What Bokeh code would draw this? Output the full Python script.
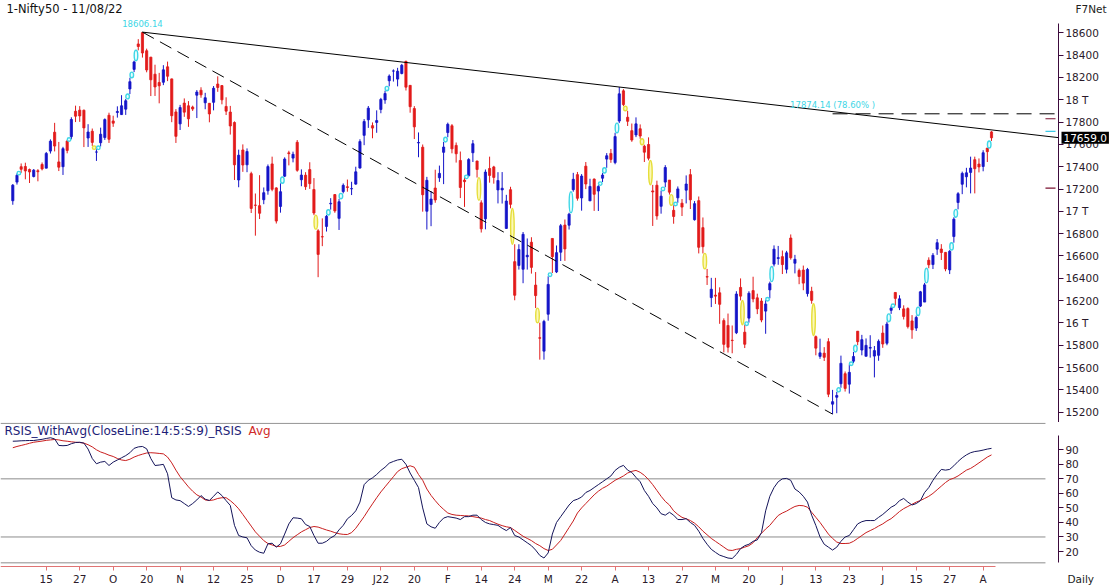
import numpy as np
from bokeh.plotting import figure
from bokeh.models import ColumnDataSource, Range1d, FixedTicker, Label, LinearAxis
from bokeh.layouts import column
from bokeh.embed import file_html
from bokeh.resources import INLINE
from bokeh.core.properties import value

# ---------------- data (Nifty50 daily, 02-09-2021 .. 11-08-2022) ----------------
opens = [17095, 17262, 17400, 17402, 17375, 17312, 17364, 17420, 17387, 17540,
 17709, 17443, 17400, 17630, 17670, 17897, 17907, 17906, 17657, 17718,
 17531, 17615, 17661, 17861, 17810, 17886, 17867, 17916, 18097, 18272,
 18500, 18602, 18439, 18382, 18229, 18155, 18157, 18295, 18187, 17891,
 17784, 17970, 17946, 17935, 18041, 18085, 17973, 17968, 17977, 18141,
 18127, 17940, 17890, 17796, 17281, 17550, 17417, 17338, 17056, 17051,
 17104, 17184, 17425, 17210, 17044, 17315, 17524, 17477, 17619, 17283,
 17324, 17374, 17196, 16825, 16773, 16865, 17067, 17150, 16937, 17177,
 17220, 17202, 17244, 17388, 17681, 17820, 17768, 17797, 17913, 17998,
 18170, 18257, 18185, 18235, 18344, 18129, 17921, 17613, 17575, 17001,
 17062, 17209, 17301, 17529, 17706, 17767, 17591, 17456, 17280, 17319,
 17525, 17451, 17076, 16933, 17384, 17398, 17192, 17192, 16847, 17194,
 16549, 16515, 16481, 16593, 16723, 16339, 15867, 15747, 16078, 16757,
 16457, 16634, 16877, 16876, 17194, 17329, 17120, 17405, 17094, 17289,
 17182, 17297, 17468, 17519, 17437, 17809, 18080, 17843, 17723, 17685,
 17740, 17584, 17599, 17183, 17234, 17045, 17262, 17280, 17009, 17121,
 17073, 17190, 17329, 16925, 17096, 16854, 16415, 16227, 16249, 16270,
 16021, 15977, 15845, 15912, 16318, 15917, 16043, 16290, 16225, 16196,
 16106, 16296, 16527, 16578, 16594, 16481, 16761, 16535, 16470, 16474,
 16263, 16284, 15877, 15700, 15729, 15832, 15272, 15334, 15455, 15545,
 15451, 15657, 15926, 15757, 15701, 15774, 15703, 15710, 15909, 15818,
 16113, 16273, 16137, 16126, 16129, 16018, 15954, 16151, 16187, 16562,
 16523, 16661, 16662, 16632, 16475, 16774, 17079, 17243, 17310, 17349,
 17463, 17424, 17402, 17567, 17712]
highs = [17245, 17340, 17429, 17436, 17383, 17379, 17378, 17438, 17532, 17645,
 17793, 17622, 17578, 17640, 17843, 17947, 17943, 17912, 17781, 17742,
 17557, 17750, 17833, 17884, 17857, 17941, 18041, 18008, 18197, 18350,
 18543, 18606.14, 18458, 18384, 18314, 18241, 18310, 18342, 18190, 17916,
 17954, 18012, 17988, 17947, 18087, 18112, 18062, 17971, 18123, 18210,
 18132, 18022, 17945, 17806, 17553, 17600, 17564, 17355, 17160, 17324,
 17214, 17420, 17490, 17216, 17251, 17484, 17543, 17535, 17639, 17376,
 17351, 17440, 17298, 16840, 16937, 16967, 17118, 17155, 17112, 17250,
 17285, 17265, 17400, 17646, 17827, 17944, 17797, 17905, 18017, 18081,
 18227, 18272, 18286, 18321, 18350, 18129, 17943, 17707, 17599, 17309,
 17182, 17373, 17410, 17622, 17795, 17782, 17617, 17536, 17306, 17477,
 17639, 17454, 17099, 17375, 17490, 17408, 17351, 17352, 17148, 17220,
 16705, 16705, 16815, 16757, 16768, 16456, 16002, 16028, 16418, 16757,
 16694, 16887, 16927, 16987, 17345, 17353, 17334, 17442, 17292, 17295,
 17235, 17343, 17522, 17559, 17704, 18114, 18095, 17901, 17787, 17842,
 17779, 17597, 17663, 17237, 17275, 17186, 17414, 17280, 17055, 17223,
 17110, 17322, 17379, 17092, 17133, 16945, 16484, 16404, 16404, 16319,
 16041, 16084, 15977, 16284, 16399, 15984, 16284, 16414, 16262, 16223,
 16204, 16370, 16695, 16690, 16649, 16646, 16793, 16610, 16487, 16514,
 16493, 16324, 15887, 15859, 15783, 15863, 15400, 15382, 15707, 15565,
 15628, 15740, 15927, 15893, 15861, 15890, 15793, 15852, 15977, 16011,
 16150, 16275, 16248, 16158, 16140, 16070, 16066, 16287, 16359, 16588,
 16626, 16752, 16706, 16636, 16653, 16947, 17172, 17356, 17390, 17490,
 17490, 17474, 17548, 17567, 17719]
lows = [17059, 17240, 17345, 17287, 17254, 17304, 17269, 17367, 17386, 17518,
 17537, 17361, 17326, 17520, 17646, 17800, 17802, 17576, 17577, 17585,
 17452, 17581, 17640, 17613, 17757, 17840, 17864, 17864, 18051, 18248,
 18443, 18378, 18246, 18033, 18034, 17968, 18131, 18167, 17799, 17613,
 17729, 17847, 17757, 17900, 17836, 18018, 17915, 17798, 17905, 18071,
 17959, 17863, 17688, 17281, 17216, 17354, 17351, 16985, 16782, 16931,
 17064, 17149, 17180, 16891, 16988, 17308, 17412, 17439, 17355, 17225,
 17192, 17201, 16966, 16410, 16688, 16819, 17015, 16987, 16833, 17161,
 17176, 17146, 17238, 17383, 17593, 17748, 17655, 17704, 17879, 17964,
 18120, 18163, 18120, 18228, 18083, 17884, 17648, 17485, 16997, 16837,
 16867, 17077, 17264, 17244, 17664, 17520, 17437, 17119, 17040, 17312,
 17442, 17303, 16810, 16839, 17257, 17248, 17071, 17070, 16843, 17027,
 16203, 16478, 16356, 16478, 16442, 16133, 15671, 15671, 16020, 16447,
 16447, 16555, 16556, 16837, 17176, 17096, 17006, 17199, 17092, 17004,
 17003, 17262, 17390, 17435, 17422, 17791, 17943, 17765, 17623, 17665,
 17650, 17442, 17457, 16869, 16925, 16979, 17216, 17150, 16889, 17077,
 16958, 17071, 17021, 16917, 16623, 16623, 16340, 16142, 16170, 15992,
 15736, 15735, 15728, 15900, 16202, 15775, 16003, 16185, 16079, 16006,
 15903, 16221, 16506, 16521, 16438, 16444, 16567, 16444, 16347, 16293,
 16236, 16172, 15710, 15678, 15659, 15335, 15183, 15191, 15419, 15385,
 15367, 15640, 15800, 15710, 15701, 15689, 15512, 15661, 15777, 15800,
 16081, 16157, 16115, 16031, 15950, 15858, 15928, 16142, 16187, 16490,
 16483, 16610, 16564, 16463, 16438, 16719, 17018, 17154, 17215, 17161,
 17161, 17349, 17359, 17442, 17631]
closes = [17234, 17323, 17377, 17362, 17353, 17369, 17355, 17380, 17519, 17629,
 17585, 17396, 17562, 17546, 17823, 17853, 17855, 17748, 17711, 17618,
 17532, 17691, 17822, 17646, 17790, 17895, 17946, 17991, 18162, 18339,
 18477, 18419, 18267, 18179, 18115, 18125, 18268, 18211, 17857, 17672,
 17930, 17889, 17829, 17917, 18069, 18044, 18018, 17873, 18103, 18110,
 17999, 17898, 17765, 17417, 17503, 17415, 17536, 17026, 17054, 16983,
 17167, 17401, 17197, 16913, 17176, 17469, 17517, 17511, 17368, 17325,
 17221, 17248, 16985, 16614, 16771, 16955, 17072, 17004, 17086, 17233,
 17214, 17204, 17354, 17625, 17805, 17925, 17746, 17813, 18003, 18056,
 18212, 18258, 18256, 18309, 18113, 17938, 17757, 17617, 17149, 17278,
 17110, 17102, 17340, 17576, 17780, 17560, 17516, 17214, 17266, 17464,
 17606, 17375, 16843, 17352, 17322, 17304, 17276, 17207, 17092, 17063,
 16248, 16658, 16794, 16606, 16498, 16245, 15863, 16013, 16345, 16594,
 16630, 16871, 16663, 16975, 17287, 17117, 17316, 17245, 17223, 17153,
 17222, 17325, 17498, 17465, 17670, 18053, 17957, 17807, 17639, 17784,
 17675, 17530, 17476, 17174, 16959, 17136, 17393, 17172, 16954, 17201,
 17038, 17245, 17103, 17069, 16678, 16683, 16411, 16302, 16240, 16167,
 15808, 15782, 15842, 16259, 16240, 15809, 16266, 16215, 16126, 16026,
 16170, 16352, 16661, 16585, 16523, 16628, 16584, 16570, 16416, 16357,
 16479, 16202, 15774, 15732, 15692, 15361, 15294, 15350, 15638, 15413,
 15557, 15699, 15832, 15850, 15799, 15780, 15752, 15835, 15811, 15990,
 16133, 16220, 16216, 16058, 15967, 15938, 16049, 16279, 16341, 16521,
 16606, 16719, 16631, 16484, 16642, 16930, 17158, 17340, 17345, 17388,
 17382, 17398, 17525, 17535, 17659]

rsis = [95.9, 96.0, 96.2, 96.3, 96.4, 96.4, 96.8, 97.2, 97.8, 98.3,
 97.5, 93.0, 92.8, 93.0, 94.2, 95.0, 95.2, 94.6, 90.5, 84.0,
 80.4, 81.5, 82.0, 79.2, 81.5, 83.0, 84.5, 86.0, 88.0, 91.0,
 92.0, 92.3, 90.7, 84.0, 79.2, 79.5, 80.0, 73.5, 57.0, 55.5,
 55.0, 53.0, 51.0, 53.0, 55.5, 58.5, 56.0, 55.1, 58.0, 61.0,
 58.5, 55.0, 51.7, 38.0, 31.0, 30.0, 29.4, 24.0, 21.0, 19.5,
 18.8, 25.3, 25.7, 23.0, 25.3, 32.0, 39.0, 43.2, 43.0, 42.5,
 38.6, 37.2, 31.0, 25.7, 25.7, 27.0, 29.4, 31.0, 34.9, 38.0,
 42.5, 44.8, 48.0, 54.0, 66.0, 69.0, 70.7, 73.0, 75.8, 78.0,
 80.8, 82.0, 83.0, 83.5, 80.0, 74.0, 69.0, 64.0, 50.0, 39.0,
 37.0, 36.0, 40.0, 43.0, 44.0, 43.5, 43.0, 42.0, 44.0, 44.0,
 45.0, 45.0, 42.0, 40.0, 39.0, 38.5, 38.0, 36.0, 34.4, 36.5,
 31.0, 30.0, 28.0, 26.0, 24.0, 21.0, 17.3, 15.5, 19.0, 32.0,
 40.0, 44.0, 48.0, 52.0, 55.0, 56.0, 57.5, 60.6, 62.0, 64.0,
 66.0, 68.0, 70.0, 72.0, 75.8, 78.0, 79.3, 76.0, 74.4, 71.0,
 68.0, 62.0, 58.0, 53.0, 50.0, 46.0, 45.0, 47.0, 45.0, 42.0,
 42.0, 42.6, 40.0, 38.0, 34.0, 29.0, 25.0, 21.5, 19.4, 17.5,
 16.5, 15.5, 15.2, 18.0, 22.0, 24.0, 25.0, 27.0, 28.0, 33.0,
 48.0, 58.0, 64.0, 68.0, 70.0, 70.3, 69.0, 63.0, 61.0, 58.0,
 54.0, 45.0, 37.9, 30.0, 25.0, 23.0, 21.0, 23.0, 27.0, 30.0,
 31.0, 35.0, 39.0, 40.5, 41.3, 41.3, 41.3, 43.5, 45.5, 48.0,
 50.5, 52.0, 55.0, 56.5, 54.0, 52.0, 53.0, 55.0, 60.6, 64.0,
 69.0, 73.0, 76.5, 76.0, 76.5, 79.0, 82.0, 84.5, 86.5, 88.0,
 88.8, 89.2, 89.8, 90.5, 91.0]
rsi_avg = [91.4, 92.3, 93.0, 93.7, 94.5, 95.2, 95.6, 96.0, 96.5, 96.8,
 97.1, 96.8, 96.2, 95.9, 95.5, 95.2, 95.0, 94.6, 93.5, 92.0,
 90.0, 88.5, 87.5, 86.3, 85.4, 84.0, 83.0, 82.6, 83.5, 85.0,
 86.1, 87.0, 87.8, 88.0, 87.8, 87.5, 87.2, 85.0, 81.0, 76.0,
 71.5, 68.0, 64.5, 61.5, 59.0, 57.5, 55.5, 55.1, 55.5, 56.5,
 57.0, 57.0, 55.0, 52.5, 49.4, 45.5, 41.5, 37.5, 33.5, 30.5,
 27.5, 25.5, 24.5, 23.5, 23.5, 24.5, 27.0, 29.5, 31.5, 33.5,
 35.0, 36.5, 37.2, 36.8, 35.8, 34.8, 34.0, 33.0, 32.2, 31.8,
 31.7, 33.0, 36.0, 40.0, 44.0, 48.5, 52.8, 57.0, 61.0, 64.5,
 68.0, 71.5, 75.0, 77.0, 78.0, 79.0, 78.0, 73.0, 69.0, 63.0,
 58.6, 55.0, 51.7, 49.0, 46.5, 45.5, 45.0, 44.8, 44.6, 44.5,
 44.0, 43.5, 43.0, 42.0, 41.3, 40.0, 38.8, 37.8, 37.0, 36.5,
 34.5, 32.5, 30.5, 29.0, 27.5, 25.5, 24.0, 22.0, 20.7, 21.5,
 24.5, 27.6, 32.0, 36.5, 41.0, 46.5, 50.0, 53.0, 56.0, 59.0,
 61.5, 63.5, 65.0, 67.0, 69.0, 70.5, 72.0, 74.0, 75.2, 75.8,
 74.5, 72.4, 69.5, 66.0, 62.0, 58.0, 54.5, 52.0, 48.0, 45.5,
 43.5, 42.5, 41.3, 39.5, 37.0, 34.0, 31.5, 29.0, 27.0, 25.0,
 23.0, 21.0, 20.7, 21.5, 22.0, 23.0, 24.0, 26.0, 29.5, 32.5,
 35.5, 38.0, 41.5, 44.8, 46.5, 47.8, 49.5, 51.0, 51.7, 51.5,
 50.5, 47.0, 43.5, 40.0, 36.0, 32.0, 29.0, 26.5, 25.5, 25.5,
 25.7, 27.0, 29.0, 31.0, 33.0, 34.4, 35.8, 37.5, 39.0, 41.0,
 42.6, 45.0, 47.5, 49.5, 51.0, 52.5, 54.0, 55.1, 56.5, 58.0,
 60.0, 62.5, 65.0, 67.5, 69.5, 70.5, 72.0, 74.0, 76.0, 77.2,
 79.0, 81.0, 83.0, 85.0, 86.5]

date_labels = ["15", "27", "O", "20", "N", "12", "25", "D", "17", "29", "J22", "20", "F",
               "14", "24", "M", "22", "A", "13", "27", "M", "20", "J", "13", "23", "J",
               "15", "27", "A"]
first_labelled_bar = 8
bars_per_label = 8
price_ticks = list(range(15200, 18601, 200))
thousand_labels = {16000: "16 T", 17000: "17 T", 18000: "18 T"}
rsi_ticks = [20, 30, 40, 50, 60, 70, 80, 90]
rsi_levels = [70, 30]
peak_text = "18606.14"
fib_level = 17874.14
fib_pct = 78.60
axis_marks = [17830, 17716, 17208]
axis_mark_colors = ["#7a1030", "#3cc8e6", "#7a1030"]
title_text = "1-Nifty50 - 11/08/22"
source_text = "F7Net"
rsi_title = "RSIS_WithAvg(CloseLine:14:5:S:9)_RSIS"
avg_title = "Avg"
period_text = "Daily"

# ---------------- styling / geometry ----------------
FONT = "DejaVu Sans"
UP = "#1414c8"
DOWN = "#e21b1b"
CYAN = "#3ed6e6"
YELLOW = "#e6de3a"
AXIS = "#3c0a3c"
LABEL = "#2a1a2a"
GRID = "#8c8c8c"
NAVY = "#14145a"
RED = "#c81e1e"

W = 1109
H1 = 422
H2 = 164
X0, X1 = -2.941, 262.21          # bar-index range across the full width
X_AX = 250.0                     # where the right-hand scales sit
X_GRID_END = 246.9

o = np.array(opens, float)
h = np.array(highs, float)
l = np.array(lows, float)
c = np.array(closes, float)
n = len(c)
xs = np.arange(n)


def style_axis(ax, size="10.5px"):
    ax.axis_line_color = AXIS
    ax.major_tick_line_color = AXIS
    ax.major_tick_out = 5
    ax.major_tick_in = 0
    ax.minor_tick_line_color = None
    ax.major_label_text_font = FONT
    ax.major_label_text_font_size = size
    ax.major_label_text_color = LABEL
    ax.major_label_standoff = 2


# ---------------- price panel ----------------
main = figure(width=W, height=H1, x_range=Range1d(X0, X1), y_range=Range1d(15107.7, 18889.5),
              output_backend="svg", toolbar_location=None,
              x_axis_location=None, y_axis_location=None, min_border=0)
main.outline_line_color = None
main.grid.visible = False
main.background_fill_color = "white"
main.border_fill_color = "white"

pax = LinearAxis(fixed_location=X_AX, ticker=FixedTicker(ticks=price_ticks))
pax.major_label_overrides = {t: thousand_labels.get(t, str(t)) for t in price_ticks}
style_axis(pax)
pax.bounds = (15110, 18683)
main.add_layout(pax, "right")

colors = [UP if cc >= oo else DOWN for oo, cc in zip(o, c)]
src = ColumnDataSource(dict(x=xs, h=h, l=l, top=np.maximum(o, c), bot=np.minimum(o, c), col=colors))
main.segment(x0="x", y0="h", x1="x", y1="l", line_color="col", line_width=1, source=src)
main.vbar(x="x", width=0.52, top="top", bottom="bot", fill_color="col", line_color="col",
          line_width=0.8, source=src)

# gap markers (cyan = gap up, yellow = gap down)
gx, gy, gh, gl, gf = [], [], [], [], []
for i in range(1, n):
    if l[i] > h[i - 1]:
        gx.append(i - 0.55); gy.append((l[i] + h[i - 1]) / 2)
        gh.append(max(l[i] - h[i - 1], 32)); gl.append(CYAN); gf.append("#e8fdff")
    elif h[i] < l[i - 1]:
        gx.append(i - 0.55); gy.append((h[i] + l[i - 1]) / 2)
        gh.append(max(l[i - 1] - h[i], 32)); gl.append(YELLOW); gf.append("#fbf8b8")
main.ellipse(x=gx, y=gy, width=0.85, height=gh, fill_color=gf, line_color=gl, line_width=1.4)

# trend lines and retracement
pk = int(np.argmax(h))
tr = int(np.argmin(l))
a2 = pk + 100 + int(np.argmax(h[pk + 100:tr]))
slope = (h[a2] - h[pk]) / (a2 - pk)
main.line([pk, X_AX], [h[pk], h[pk] + slope * (X_AX - pk)], line_color="black", line_width=1)
main.line([pk, tr], [h[pk], l[tr]], line_color="black", line_width=1, line_dash="13 7")
main.line([tr, X_AX], [fib_level, fib_level], line_color="black", line_width=1, line_dash="15 8")

main.text(x=[pk], y=[h[pk]], text=[peak_text], text_font=value(FONT), text_font_size="8.5px",
          text_color=CYAN, text_align="center", text_baseline="bottom", y_offset=-5)
main.text(x=[tr], y=[fib_level], text=[f"{fib_level:.2f} ({fib_pct:.2f}% )"], text_font=value(FONT),
          text_font_size="8.5px", text_color=CYAN, text_align="center", text_baseline="bottom",
          y_offset=-4)

main.segment(x0=[X_AX - 3.1] * len(axis_marks), x1=[X_AX - 0.7] * len(axis_marks),
             y0=axis_marks, y1=axis_marks, line_color=axis_mark_colors, line_width=1.2)

main.add_layout(Label(x=6, y=H1 - 8, x_units="screen", y_units="screen", text=title_text,
                      text_font=FONT, text_font_size="11.5px", text_color="#111111",
                      text_baseline="middle"))
main.add_layout(Label(x=1075, y=H1 - 8, x_units="screen", y_units="screen", text=source_text,
                      text_font=FONT, text_font_size="10.5px", text_color="#222222",
                      text_baseline="middle"))
main.add_layout(Label(x=1061, y=c[-1], x_units="screen", y_units="data", text=f"{c[-1]:.1f}",
                      text_font=FONT, text_font_size="10.5px", text_color="white",
                      text_baseline="middle", background_fill_color="black", padding=2))

# ---------------- RSI panel ----------------
rsi = figure(width=W, height=H2, x_range=main.x_range, y_range=Range1d(-4.09, 108.79),
             output_backend="svg", toolbar_location=None,
             x_axis_location=None, y_axis_location=None, min_border=0)
rsi.outline_line_color = None
rsi.grid.visible = False
rsi.background_fill_color = "white"
rsi.border_fill_color = "white"

rax = LinearAxis(fixed_location=X_AX, ticker=FixedTicker(ticks=rsi_ticks))
style_axis(rax)
rax.bounds = (12.4, 99.8)
rsi.add_layout(rax, "right")

tick_pos = [first_labelled_bar + bars_per_label * k for k in range(len(date_labels))]
dax = LinearAxis(fixed_location=9.9, ticker=FixedTicker(ticks=tick_pos))
style_axis(dax)
dax.major_label_overrides = {p: s for p, s in zip(tick_pos, date_labels)}
dax.axis_line_color = "#e07474"
dax.major_tick_line_color = "#e07474"
dax.major_tick_out = 4
dax.major_label_standoff = 3
dax.bounds = (X0, n)
rsi.add_layout(dax, "below")

levels = [108.2] + rsi_levels + [12.2]
rsi.segment(x0=[X0] * len(levels), x1=[X_GRID_END] * len(levels), y0=levels, y1=levels,
            line_color=GRID, line_width=1)
rsi.line(xs, rsi_avg, line_color=RED, line_width=1)
rsi.line(xs, rsis, line_color=NAVY, line_width=1)

rsi.add_layout(Label(x=4, y=H2 - 8.5, x_units="screen", y_units="screen", text=rsi_title,
                     text_font=FONT, text_font_size="12px", text_color="#1e1e78",
                     text_baseline="middle"))
rsi.add_layout(Label(x=248, y=H2 - 8.5, x_units="screen", y_units="screen", text=avg_title,
                     text_font=FONT, text_font_size="12px", text_color="#d02a2a",
                     text_baseline="middle"))
rsi.add_layout(Label(x=1067, y=8, x_units="screen", y_units="screen", text=period_text,
                     text_font=FONT, text_font_size="10.5px", text_color="#222222",
                     text_baseline="middle"))

layout = column(main, rsi, spacing=0)
open("out.html", "w").write(file_html(layout, INLINE, title="Nifty50"))
